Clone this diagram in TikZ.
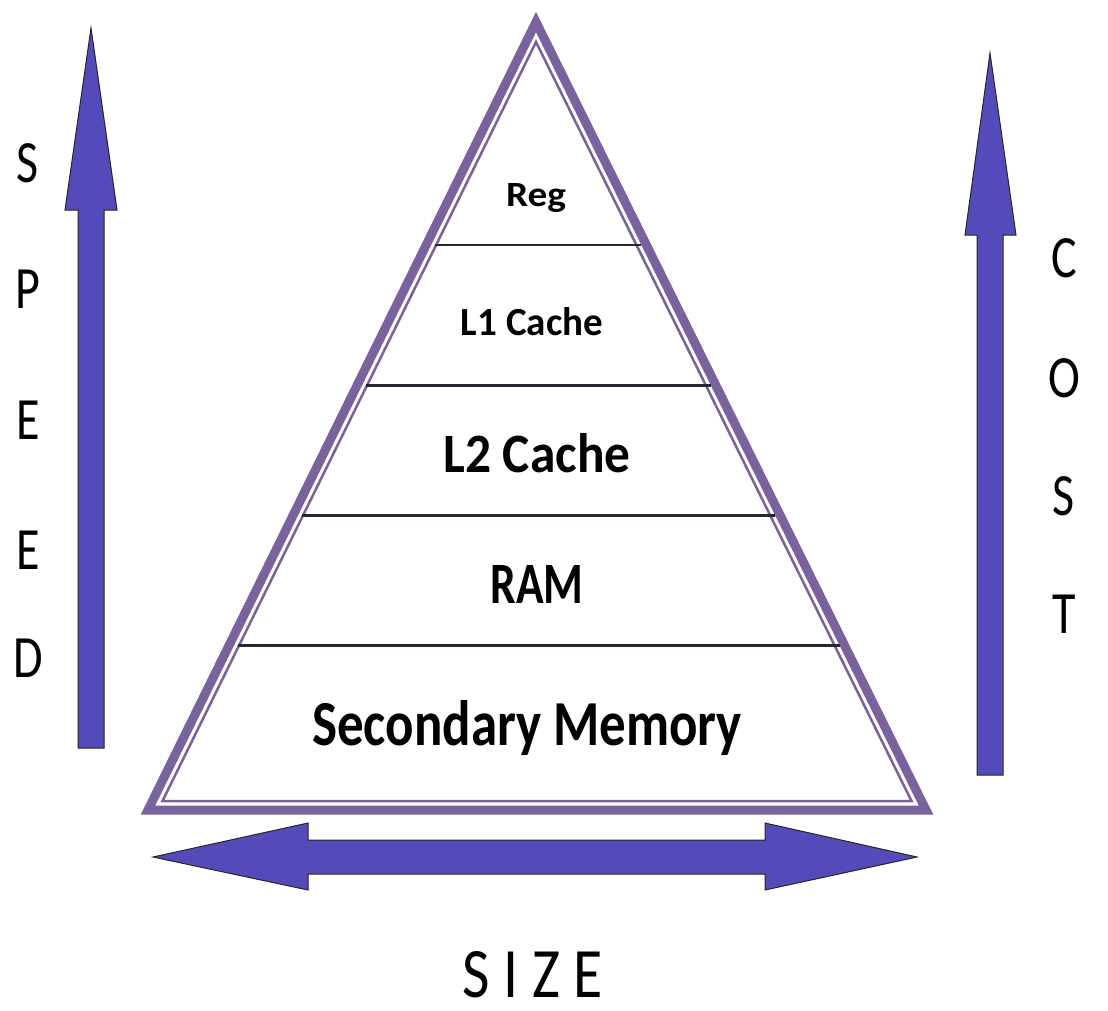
\documentclass[tikz,border=0pt]{standalone}
\usepackage{fontspec}
\setmainfont{Carlito}
\usepackage{graphicx}
\usetikzlibrary{calc}
\definecolor{pyramidLine}{RGB}{122,98,158}
\definecolor{arrowFill}{RGB}{84,74,186}
\definecolor{levelLine}{RGB}{40,38,48}
\tikzstyle{stdText} = [inner sep=0pt, anchor=base]
\tikzstyle{levelText} = [stdText, font=\bfseries]
\tikzstyle{axisLetter} = [inner sep=0pt, anchor=center, font=\fontsize{48}{48}\selectfont]
\tikzstyle{bigArrow} = [fill=arrowFill, draw=black!85, line width=1pt, line join=miter]
\tikzstyle{outerEdge} = [draw=pyramidLine, line width=9pt, line join=miter]
\tikzstyle{innerEdge} = [draw=pyramidLine, line width=2.5pt, line join=miter]
\tikzstyle{level} = [draw=levelLine, line width=2.5pt]
\newcommand{\fitText}[3]{\resizebox{#1}{#2}{#3}}
\newcommand{\tallLetter}[1]{\scalebox{1}[1.25]{#1}}

\begin{document}
\begin{tikzpicture}[x=1pt, y=-1pt]
    \useasboundingbox [fill=white] (0,0) rectangle (1108,1010);

    % the pyramid
    \coordinate (A) at (536,22);
    \coordinate (BL) at (148,810);
    \coordinate (BR) at (926,810);
    \draw [outerEdge] (A) -- (BL) -- (BR) -- cycle;
    \draw [innerEdge] (536,42) -- (162.5,801) -- (911.5,801) -- cycle;

    % lines between the levels
    \foreach \t [count=\i] in {0.717, 0.539, 0.374, 0.209}{
        \draw [level, shorten <=9pt, shorten >=5pt] ($(BL)!\t!(A)$) coordinate (ll\i) -- ($(BR)!\t!(A)$) coordinate (lr\i);
    }

    \node (reg) [levelText] at (536,206) {\fitText{60pt}{23pt}{Reg}};
    \node (l1) [levelText] at (532,335) {\fitText{142pt}{28pt}{L1 Cache}};
    \node (l2) [levelText] at (537,472) {\fitText{187pt}{39pt}{L2 Cache}};
    \node (ram) [levelText] at (537,603) {\fitText{93pt}{38pt}{RAM}};
    \node (secondary) [levelText] at (527,745) {\fitText{430pt}{45pt}{Secondary Memory}};

    % the arrows
    \draw [bigArrow] (78,748) -- (78,210) -- (65,210) -- (91,28) -- (117,210) -- (104,210) -- (104,748) -- cycle;
    \draw [bigArrow] (977,775) -- (977,235) -- (965,235) -- (990,53) -- (1016,235) -- (1003,235) -- (1003,775) -- cycle;
    \draw [bigArrow] (153,857) -- (308,823) -- (308,840) -- (765,840) -- (765,823) -- (917,857) -- (765,890) -- (765,874) -- (308,874) -- (308,890) -- cycle;

    % axis labels
    \foreach \l/\y [count=\i] in {S/163, P/289, E/420, E/550, D/658}{
        \node (speed\i) [axisLetter] at (28,\y) {\tallLetter{\l}};
    }
    \foreach \l/\y [count=\i] in {C/258, O/378, S/496, T/614}{
        \node (cost\i) [axisLetter] at (1064,\y) {\tallLetter{\l}};
    }
    \node (size) [stdText] at (533,997) {\fitText{140pt}{46pt}{S I Z E}};
\end{tikzpicture}
\end{document}
